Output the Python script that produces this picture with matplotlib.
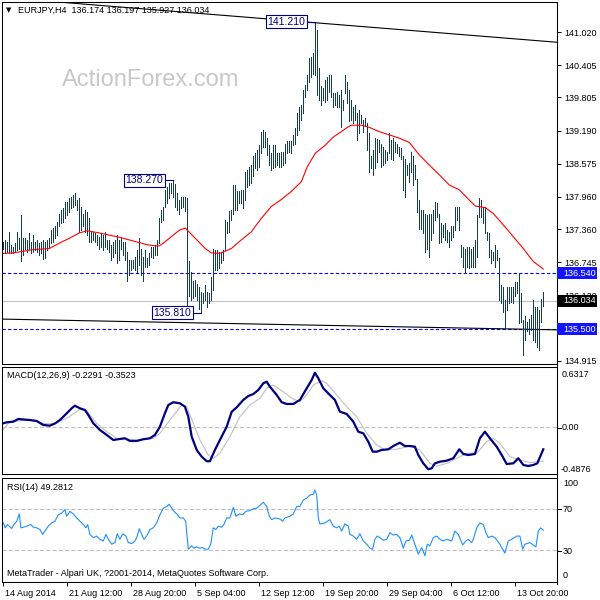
import numpy as np
import matplotlib
matplotlib.use('Agg')
import matplotlib.pyplot as plt
import matplotlib.transforms as mtransforms
from matplotlib.patches import Rectangle
from matplotlib.lines import Line2D

plt.rcParams['font.family'] = ['Liberation Sans', 'DejaVu Sans']
plt.rcParams['lines.scale_dashes'] = False

#---------------------------------------------------------------------------------
# EURJPY H4 bars (high / low per bar, bar 0 = 14 Aug 2014 00:00)
hi = [137.13,137.16,137.13,137.31,137.07,137.03,137.10,137.31,137.19,137.62,
      137.19,137.19,137.16,137.28,137.13,137.25,137.13,137.16,137.10,137.13,
      137.16,137.13,137.16,137.19,137.34,137.38,137.41,137.50,137.65,137.72,
      137.75,137.87,137.87,137.93,137.96,138.00,138.03,137.90,137.93,137.78,
      137.65,137.72,137.68,137.56,137.31,137.31,137.28,137.25,137.22,137.28,
      137.25,137.31,137.16,137.16,137.07,137.13,137.16,137.25,137.16,137.19,
      137.13,137.13,136.94,136.79,136.79,136.79,136.85,136.97,137.19,137.00,
      136.85,136.97,136.82,136.91,137.03,137.03,137.07,137.16,137.56,137.72,
      137.78,138.09,138.15,138.21,138.22,138.27,138.20,138.03,137.90,137.96,
      137.96,137.95,137.93,136.76,136.57,136.39,136.42,136.35,136.29,136.20,
      136.17,136.32,136.20,136.17,136.48,137.00,136.97,136.97,136.94,136.94,
      136.97,137.53,137.50,137.69,137.72,138.18,138.18,138.06,138.06,138.09,
      138.09,138.43,138.46,138.52,138.55,138.71,138.77,138.83,138.92,139.17,
      139.20,139.17,139.05,138.92,138.77,138.92,138.92,138.77,138.77,138.80,
      138.80,138.95,138.99,138.99,138.99,139.11,139.23,139.51,139.63,139.67,
      139.94,140.04,140.22,140.53,140.56,140.63,141.21,141.06,140.35,140.01,
      139.98,140.13,140.19,140.22,140.22,139.88,139.88,139.91,139.85,139.94,
      139.76,140.22,140.10,139.94,139.76,139.63,139.67,139.51,139.57,139.48,
      139.39,139.42,139.33,139.14,138.71,138.83,139.05,139.03,139.02,138.95,
      138.89,138.83,138.80,139.14,139.02,139.05,138.98,138.95,138.89,138.86,
      138.71,138.67,138.55,138.58,138.80,138.71,138.55,138.30,137.90,137.72,
      137.72,137.65,137.62,137.65,137.65,137.72,137.87,137.84,137.65,137.47,
      137.44,137.47,137.34,137.31,137.41,137.41,137.78,137.78,137.78,137.07,
      137.03,137.00,137.03,137.03,137.00,137.03,137.16,137.62,137.93,137.90,
      137.78,137.78,137.31,137.28,136.97,136.94,137.07,136.97,136.82,136.32,
      136.29,136.04,136.29,136.29,136.29,136.29,136.38,136.38,136.54,136.17,
      135.67,135.74,135.64,135.70,135.77,136.04,135.92,135.92,135.86,136.07,
      136.197]
lo = [137.00,136.91,136.94,136.91,136.91,136.92,136.94,136.97,136.99,136.76,
      136.88,137.00,136.94,137.00,136.91,136.94,136.97,136.94,136.88,136.91,
      136.80,136.82,136.97,137.03,137.10,137.13,137.19,137.25,137.41,137.47,
      137.50,137.56,137.62,137.68,137.75,137.78,137.81,137.72,137.31,137.34,
      137.41,137.31,137.25,137.13,137.13,137.16,137.13,137.07,137.00,137.03,
      136.97,137.03,137.00,136.94,136.79,136.85,136.91,136.73,136.79,137.00,
      136.88,136.79,136.40,136.51,136.60,136.63,136.60,136.57,136.69,136.51,
      136.40,136.66,136.66,136.69,136.85,136.82,136.88,136.88,137.10,137.50,
      137.53,137.78,137.84,137.93,138.03,137.96,137.78,137.72,137.65,137.75,
      137.78,137.70,135.95,136.11,136.05,136.08,136.11,136.05,135.88,135.81,
      135.98,136.05,135.92,135.98,136.05,136.23,136.60,136.60,136.63,136.73,
      136.79,136.97,137.28,137.31,137.53,137.65,137.72,137.72,137.84,137.84,
      137.75,137.90,138.15,138.18,138.21,138.34,138.49,138.46,138.52,138.77,
      138.89,138.89,138.74,138.55,138.46,138.49,138.52,138.55,138.52,138.52,
      138.55,138.58,138.77,138.80,138.77,138.92,138.95,139.11,139.20,139.39,
      139.51,139.82,139.94,140.10,140.19,140.25,140.22,139.85,139.76,139.67,
      139.76,139.73,139.76,139.91,139.82,139.63,139.67,139.63,139.63,139.26,
      139.57,139.88,139.70,139.36,139.39,139.33,139.39,139.02,139.14,139.33,
      139.17,139.29,138.83,138.43,138.49,138.37,138.49,138.61,138.80,138.52,
      138.55,138.58,138.64,138.77,138.67,138.64,138.80,138.77,138.71,138.67,
      138.09,137.96,138.37,138.24,138.43,138.18,138.30,137.68,137.37,137.37,
      137.28,136.94,137.00,136.85,137.16,137.28,137.53,137.59,137.10,137.13,
      137.22,137.16,137.13,137.03,137.16,137.22,137.34,137.53,137.34,136.85,
      136.66,136.54,136.66,136.63,136.66,136.66,136.66,136.85,137.59,137.59,
      137.47,137.28,137.16,136.85,136.73,136.79,136.66,136.79,136.04,135.98,
      135.83,135.55,135.86,135.98,136.01,135.98,136.11,136.17,135.61,135.64,
      135.02,135.30,135.46,135.42,135.49,135.30,135.27,135.18,135.12,135.64,
      135.927]

# 55 EMA (red), read at these bars
ma_pts = [(0,136.91),(5,136.92),(10,136.95),(15,136.98),(23,137.00),(28,137.10),
          (33,137.19),(38,137.29),(42,137.33),(48,137.29),(53,137.25),(58,137.21),
          (63,137.16),(68,137.11),(72,137.07),(76,137.05),(78,137.05),(80,137.10),
          (82,137.16),(85,137.25),(88,137.34),(91,137.38),(96,137.19),(101,137.00),
          (104,136.92),(107,136.91),(109,136.92),(114,137.00),(119,137.16),(124,137.31),
          (129,137.56),(134,137.78),(139,137.91),(144,138.06),(149,138.24),(152,138.52),
          (156,138.77),(161,138.92),(165,139.07),(169,139.17),(172,139.25),(174,139.29),
          (179,139.29),(183,139.25),(188,139.17),(193,139.11),(198,139.05),(203,138.97),
          (208,138.74),(213,138.55),(218,138.37),(223,138.18),(228,138.09),(233,137.90),
          (236,137.79),(241,137.76),(245,137.65),(250,137.44),(255,137.22),(260,137.00),
          (265,136.76),(270,136.62)]

macd_pts = [(0,0.043),(1.7,0.053),(5,0.060),(7.5,0.088),(9,0.085),(13.3,0.077),(16.7,0.067),
            (20,0.025),(23.3,0.018),(26,0.043),(28.3,0.077),(31.7,0.147),(34.2,0.200),
            (35.8,0.227),(38.3,0.200),(40.8,0.182),(42.5,0.130),(45,0.043),(48.3,-0.027),
            (51.7,-0.079),(55,-0.132),(58.3,-0.121),(60.8,-0.114),(63.3,-0.142),(66.7,-0.142),
            (70,-0.124),(73.3,-0.114),(75.8,-0.079),(78.3,0.007),(80.8,0.147),(82.5,0.234),
            (85,0.263),(88.3,0.252),(90.8,0.217),(92.5,0.112),(94.2,-0.097),(96.7,-0.236),
            (99.2,-0.306),(101.7,-0.354),(103.3,-0.354),(105.8,-0.236),(108.3,-0.132),
            (111.7,0.007),(114.2,0.164),(116.7,0.210),(120,0.287),(122.5,0.328),(125,0.349),
            (127.5,0.391),(130,0.461),(131.7,0.478),(133.3,0.426),(136.7,0.339),(139.2,0.263),
            (141.7,0.245),(145,0.245),(148.3,0.287),(151.7,0.409),(154.2,0.496),(155.8,0.572),
            (157.5,0.514),(160,0.409),(163.3,0.339),(165.8,0.287),(168.3,0.164),(171.7,0.140),
            (175,0.060),(177.5,-0.045),(180,-0.062),(182.5,-0.150),(184.7,-0.254),
            (186.7,-0.254),(189.2,-0.236),(192.5,-0.229),(195,-0.195),(198.3,-0.160),
            (200.8,-0.195),(203.3,-0.195),(205.8,-0.202),(207.5,-0.289),(210,-0.376),
            (212.5,-0.438),(214.2,-0.428),(215.8,-0.376),(218.3,-0.359),(221.7,-0.348),
            (225,-0.323),(228,-0.229),(230,-0.278),(232.5,-0.289),(235.8,-0.278),
            (238.3,-0.114),(240.8,-0.045),(243.3,-0.114),(246.7,-0.202),(249.2,-0.289),
            (251.7,-0.383),(255,-0.376),(257.5,-0.323),(260,-0.393),(262.5,-0.404),
            (265,-0.393),(267,-0.376),(270,-0.2291)]

signal_pts = [(0,-0.020),(3.3,0.060),(13.3,0.077),(20,0.043),(25,0.036),(31.7,0.095),
              (38.3,0.189),(41.7,0.175),(46.7,0.043),(51.7,-0.045),(56.7,-0.114),
              (61.7,-0.121),(66.7,-0.132),(75,-0.114),(78.3,-0.062),(83.3,0.077),
              (89.2,0.234),(91.7,0.217),(95,0.043),(98.3,-0.132),(102.5,-0.289),
              (105,-0.323),(108.3,-0.271),(113.3,-0.097),(118.3,0.112),(123.3,0.234),
              (128.3,0.304),(131.7,0.409),(135,0.444),(140,0.373),(144.2,0.304),
              (148.3,0.269),(151.7,0.339),(155,0.444),(159.2,0.489),(161.7,0.461),
              (166.7,0.339),(171.7,0.217),(176.7,0.112),(181.7,-0.062),(186.7,-0.184),
              (190.8,-0.236),(196.7,-0.229),(203.3,-0.195),(208.3,-0.236),(213.3,-0.376),
              (216.7,-0.404),(221.7,-0.376),(226.7,-0.323),(231.7,-0.271),(236.7,-0.271),
              (241.7,-0.150),(245,-0.114),(248.3,-0.166),(253.3,-0.306),(258.3,-0.341),
              (263.3,-0.369),(270,-0.3523)]

rsi_pts = [(0,56.4),(1,51.7),(2,54.9),(3,53.3),(4.2,51.1),(5.3,54.9),(6.7,58.0),(8,65.0),
           (8.8,51.7),(10,52.3),(11.7,53.3),(13.7,54.9),(15,52.3),(16.7,51.7),(18.3,50.1),
           (19.7,45.4),(20.8,48.6),(22.5,53.3),(24.2,56.4),(25.8,58.0),(27.5,64.3),
           (29.2,65.9),(30.8,69.1),(31.7,62.8),(33.3,67.5),(35,65.0),(36.7,61.2),(38.3,58.0),
           (40,54.9),(41.3,51.7),(42.2,54.9),(43.3,45.4),(45,42.3),(46.7,43.8),(48.3,40.7),
           (50,39.1),(51.3,45.4),(52.5,40.7),(54.2,36.0),(55.8,37.5),(57,46.0),(58.3,40.7),
           (59.7,46.0),(61.3,43.8),(62.5,37.5),(64.2,36.6),(65.8,39.1),(66.7,42.3),
           (68,50.8),(69.2,45.4),(70.3,40.7),(71.7,43.8),(73.3,50.1),(75,51.7),(76.7,56.4),
           (78.3,64.3),(80,70.6),(81.7,72.2),(83,74.4),(84.2,70.6),(85.3,67.5),(86.7,65.0),
           (88.3,61.2),(90,61.2),(91.2,58.0),(92.5,31.2),(94.2,34.4),(95.3,32.2),(96.7,33.4),
           (98,32.2),(99.7,32.8),(100.8,31.2),(102.5,31.2),(103.7,36.0),(105,51.7),
           (106.3,50.1),(107.5,53.3),(109.2,52.3),(110.3,54.9),(111.7,61.2),(113.3,61.2),
           (115,71.3),(116.3,62.8),(118,65.0),(119.7,64.3),(121.3,67.5),(123,68.1),
           (124.7,69.7),(126.7,70.6),(128.3,73.2),(130,76.3),(131.7,72.2),(133,62.8),
           (134.2,59.6),(135.8,61.2),(138.3,60.2),(139.7,58.0),(140.8,61.2),(143.3,62.8),
           (145,65.0),(146.7,72.2),(148.3,72.2),(150,78.5),(151.7,80.1),(153.3,83.2),
           (155,83.9),(155.8,88.0),(156.7,83.2),(157.5,61.2),(158.3,55.5),(160.8,56.4),
           (163.3,59.6),(165,53.3),(166.7,51.7),(168,53.3),(169.2,48.6),(170.8,55.5),
           (172.5,53.3),(173.3,45.4),(175,43.8),(176.7,40.7),(178.3,46.0),(180,39.1),
           (181.7,36.0),(183.3,32.2),(184.7,31.2),(185.8,40.7),(187,43.8),(188.3,42.3),
           (190,39.7),(191.7,40.7),(193.3,47.0),(195,44.8),(196.7,45.4),(198.3,42.3),
           (200,32.2),(201.3,39.1),(203,39.7),(204.2,44.8),(205.8,36.0),(207.5,26.5),
           (209.2,32.8),(210.8,24.9),(212,36.0),(213.3,34.4),(215,42.3),(216.7,43.8),
           (218.3,40.7),(220,39.1),(221.7,40.7),(224.2,39.1),(225.8,48.6),(227.5,45.4),
           (229.7,35.3),(231.3,39.1),(232.5,40.7),(234.2,37.5),(235,40.7),(236.7,51.7),
           (238.3,56.4),(240,54.9),(241.3,47.0),(242.5,42.3),(244.2,43.8),(245.8,42.3),
           (248.3,36.0),(250.8,27.4),(252.5,39.1),(254.2,40.7),(256.7,43.8),(258.3,43.8),
           (259.7,31.2),(260.8,36.0),(263.3,37.5),(266.3,33.4),(267.5,48.6),(268.7,51.7),
           (270,49.2812)]

price_ticks = [141.020, 140.405, 139.805, 139.190, 138.575, 137.960, 137.360, 136.745, 136.130, 134.915]
date_ticks = [0, 32, 64, 96, 128, 160, 192, 224, 256]
date_labels = ['14 Aug 2014', '21 Aug 12:00', '28 Aug 20:00', '5 Sep 04:00', '12 Sep 12:00',
               '19 Sep 20:00', '29 Sep 04:00', '6 Oct 12:00', '13 Oct 20:00']
levels = [136.54, 135.50]
last_price = 136.034
swing_labels = [(156, 141.21), (85, 138.27), (99, 135.81)]
upper_tl = [(20, 141.60), (277, 140.83)]
lower_tl = [(-1, 135.69), (277, 135.49)]

#---------------------------------------------------------------------------------
BAR = '#123c5a'
FS = 6.5
fig = plt.figure(figsize=(6, 6), dpi=100)

def panel(top, bottom):
    #pixel rows -> figure fraction
    return [2/600., 1 - bottom/600., 555/600., (bottom - top)/600.]

ax = fig.add_axes(panel(2, 364))
axm = fig.add_axes(panel(367, 474))
axr = fig.add_axes(panel(477.5, 581.7))

x = np.arange(len(hi))
for a in (ax, axm, axr):
    a.set_xlim(-0.65, 276.85)
    for s in a.spines.values():
        s.set_linewidth(0.75)
    a.tick_params(left=False, labelleft=False, bottom=False, labelbottom=False)

# main panel
ax.set_ylim(134.856, 141.578)
ax.vlines(x, lo, hi, colors=BAR, lw=0.68, antialiased=False, zorder=3)
ma = np.array(ma_pts)
ax.plot(ma[:, 0], ma[:, 1], color='#ff0000', lw=0.8, zorder=4)
for lv in levels:
    ax.axhline(lv, color='#0000ff', lw=0.8, dashes=(2.4, 1.6), zorder=2)
ax.axhline(last_price, color='#c0c0c0', lw=0.8, zorder=1)
for tl in (upper_tl, lower_tl):
    t = np.array(tl)
    ax.plot(t[:, 0], t[:, 1], color='black', lw=0.8, zorder=2)

for b, p in swing_labels:
    ax.plot([b - 5, b], [p, p], color='#000080', lw=0.8, zorder=5)
    ax.text(b - 5, p, '%.3f' % p, ha='right', va='center', fontsize=7.5, color='#000080',
            zorder=6, bbox=dict(boxstyle='square,pad=0.15', fc='white', ec='#000080', lw=0.8))

ax.yaxis.tick_right()
ax.set_yticks(price_ticks)
ax.set_yticklabels(['%.3f' % v for v in price_ticks])
ax.tick_params(axis='y', right=True, labelright=True, length=3, width=0.7, pad=2, labelsize=FS)

# right side price boxes
tr = mtransforms.blended_transform_factory(fig.transFigure, ax.transData)
hbox = 12 / 53.85
for p, fc in [(levels[0], '#1414ff'), (last_price, 'black'), (levels[1], '#1414ff')]:
    r = Rectangle((557/600., p - hbox/2), 40/600., hbox, transform=tr, fc=fc, ec='none',
                  clip_on=False, zorder=7)
    fig.add_artist(r)
    fig.text(563/600., p, '%.3f' % p, transform=tr, color='white', fontsize=FS,
             va='center', ha='left', zorder=8)

# MACD panel
axm.set_ylim(-0.4876, 0.6317)
mp = np.array(macd_pts)
sp = np.array(signal_pts)
axm.axhline(0, color='#c0c0c0', lw=0.8, dashes=(3, 1.5))
axm.plot(sp[:, 0], sp[:, 1], color='#c0c0c0', lw=0.8)
axm.plot(mp[:, 0], mp[:, 1], color='#000080', lw=1.6)

# RSI panel
axr.set_ylim(0, 100)
rp = np.array(rsi_pts)
for lv in (70, 30):
    axr.axhline(lv, color='#c0c0c0', lw=0.8, dashes=(3, 1.5))
axr.plot(rp[:, 0], rp[:, 1], color='#1e90ff', lw=0.8)
axr.set_xticks(date_ticks)
axr.set_xticklabels(date_labels, ha='left')
axr.tick_params(axis='x', bottom=True, labelbottom=True, length=3, width=0.7, pad=2, labelsize=FS)
offs = mtransforms.ScaledTranslation(2/100., 0, fig.dpi_scale_trans)
for lab in axr.get_xticklabels():
    lab.set_transform(lab.get_transform() + offs)

#---------------------------------------------------------------------------------
# texts placed in pixel positions
def ptxt(px, py, s, **kw):
    kw.setdefault('fontsize', FS)
    kw.setdefault('va', 'center')
    return fig.text(px/600., 1 - py/600., s, **kw)

ptxt(62, 80, 'ActionForex.com', fontsize=17, color='#c8c8c8', zorder=0)
ptxt(6, 10, '\u25bc', fontsize=5, family='DejaVu Sans')
ptxt(18, 10, 'EURJPY,H4  136.174 136.197 135.927 136.034')
ptxt(7, 376, 'MACD(12,26,9) -0.2291 -0.3523')
ptxt(7, 487, 'RSI(14) 49.2812')
ptxt(7, 574, 'MetaTrader - Alpari UK, ?2001-2014, MetaQuotes Software Corp.')

ptxt(562, 374.5, '0.6317')
ptxt(562, 428, '0.00')
ptxt(561, 469, '-0.4876')
ptxt(563, 484, '100')
ptxt(563, 509, '70')
ptxt(563, 551.3, '30')
ptxt(563, 575, '0')

# right axis line through all panels + small ticks of the sub panels
fig.add_artist(Line2D([557/600., 557/600.], [1 - 2/600., 1 - 584/600.], color='black', lw=0.75))
for py in (428, 509, 551.3):
    fig.add_artist(Line2D([557/600., 561/600.], [1 - py/600.]*2, color='black', lw=0.7))

fig.savefig('out.png', dpi=100, facecolor='white')
